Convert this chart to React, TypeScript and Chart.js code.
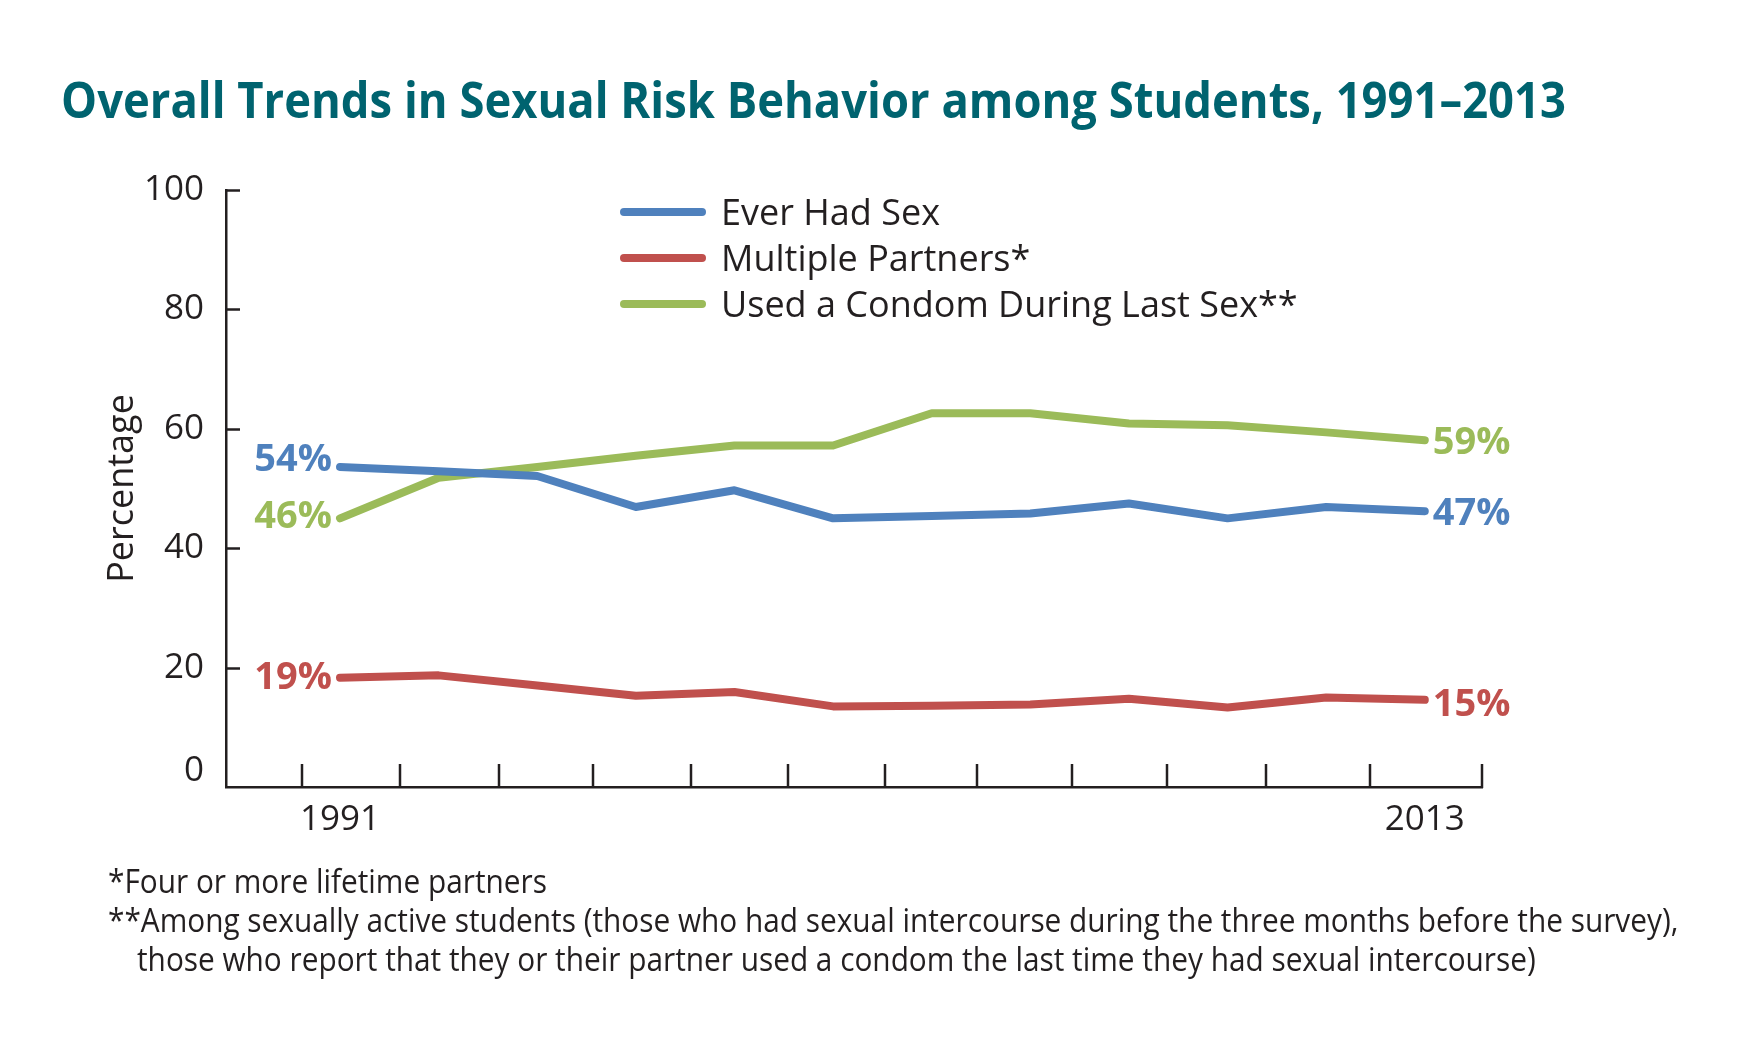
import React, { useEffect, useLayoutEffect, useRef } from 'react';
import { Chart, registerables } from 'chart.js';

Chart.register(...registerables);

// ---- data ----
const years = ['1991', '1993', '1995', '1997', '1999', '2001', '2003', '2005', '2007', '2009', '2011', '2013'];
const everHadSex = [53.6, 52.9, 52.1, 46.9, 49.7, 45.0, 45.4, 45.8, 47.5, 45.0, 46.9, 46.2];
const multiplePartners = [18.3, 18.7, 17.0, 15.3, 15.9, 13.5, 13.6, 13.8, 14.8, 13.3, 15.0, 14.6];
const usedCondom = [45.0, 51.8, 53.6, 55.5, 57.2, 57.2, 62.6, 62.6, 60.9, 60.6, 59.4, 58.1];
const seriesNames = ['Ever Had Sex', 'Multiple Partners*', 'Used a Condom During Last Sex**'];
const startLabels = ['54%', '19%', '46%'];
const endLabels = ['47%', '15%', '59%'];
const yTickValues = [0, 20, 40, 60, 80, 100];

const titleText = 'Overall Trends in Sexual Risk Behavior among Students, 1991\u20132013';
const footnotes = [
  '*Four or more lifetime partners',
  '**Among sexually active students (those who had sexual intercourse during the three months before the survey),',
  'those who report that they or their partner used a condom the last time they had sexual intercourse)',
];

// ---- style ----
const FONT = "'Open Sans', 'Noto Sans', sans-serif";
const INK = '#231f20';
const TEAL = '#00636f';
const COLORS = ['#4f81bd', '#c0504d', '#9bbb59'];

const decorPlugin = {
  id: 'decor',
  afterDatasetsDraw(chart: any, _args: any, opts: any) {
    const { ctx, chartArea, scales } = chart;
    const xs = scales.x;
    const ys = scales.y;
    ctx.save();
    // inward axis ticks
    ctx.strokeStyle = INK;
    ctx.lineWidth = 2.5;
    ctx.lineCap = 'butt';
    ys.ticks.forEach((t: any) => {
      if (t.value === 0) return;
      const py = Math.round(ys.getPixelForValue(t.value)) + 0.5;
      ctx.beginPath();
      ctx.moveTo(chartArea.left, py);
      ctx.lineTo(chartArea.left + opts.yTickLen, py);
      ctx.stroke();
    });
    [...opts.xTickValues, xs.max].forEach((v: number) => {
      const px = Math.round(xs.getPixelForValue(v));
      ctx.beginPath();
      ctx.moveTo(px, chartArea.bottom + 1);
      ctx.lineTo(px, chartArea.bottom - opts.xTickLen);
      ctx.stroke();
    });

    // zero label sits a little above the baseline in the original
    ctx.fillStyle = INK;
    ctx.font = `400 35px ${FONT}`;
    ctx.textAlign = 'right';
    ctx.textBaseline = 'middle';
    ctx.fillText('0', chartArea.left - 22, ys.getPixelForValue(0) - opts.zeroLift);

    // legend
    const lg = opts.legend;
    chart.data.datasets.forEach((ds: any, i: number) => {
      const rowY = lg.top + i * lg.rowGap;
      ctx.strokeStyle = ds.borderColor;
      ctx.lineWidth = lg.lineWidth;
      ctx.lineCap = 'round';
      ctx.beginPath();
      ctx.moveTo(lg.x, rowY);
      ctx.lineTo(lg.x + lg.lineLen, rowY);
      ctx.stroke();
      ctx.fillStyle = INK;
      ctx.font = `400 ${lg.fontSize}px ${FONT}`;
      ctx.textAlign = 'left';
      ctx.textBaseline = 'alphabetic';
      ctx.fillText(ds.label, lg.textX, rowY + lg.fontSize * 0.357);
    });

    // start / end value labels
    const lb = opts.labels;
    ctx.font = `700 ${lb.fontSize}px ${FONT}`;
    ctx.textBaseline = 'alphabetic';
    chart.data.datasets.forEach((ds: any, i: number) => {
      const meta = chart.getDatasetMeta(i);
      const first = meta.data[0];
      const last = meta.data[meta.data.length - 1];
      ctx.fillStyle = ds.borderColor;
      ctx.textAlign = 'right';
      ctx.fillText(startLabels[i], first.x - lb.gap, first.y + lb.startDy[i] + lb.fontSize * 0.357);
      ctx.textAlign = 'left';
      ctx.fillText(endLabels[i], last.x + lb.gap, last.y + lb.endDy[i] + lb.fontSize * 0.357);
    });
    ctx.restore();
  },
};

export default function App() {
  const canvasRef = useRef<HTMLCanvasElement | null>(null);
  const titleRef = useRef<HTMLDivElement | null>(null);
  const footRef = useRef<HTMLDivElement | null>(null);
  const foot2Ref = useRef<HTMLSpanElement | null>(null);
  const foot3Ref = useRef<HTMLDivElement | null>(null);

  useLayoutEffect(() => {
    const t = titleRef.current;
    if (t) {
      t.style.transform = 'none';
      const w = t.offsetWidth;
      if (w > 0) t.style.transform = `scaleX(${1505 / w})`;
    }
    const f = footRef.current;
    const s2 = foot2Ref.current;
    const l3 = foot3Ref.current;
    if (f && s2 && l3) {
      const w2 = s2.offsetWidth;
      if (w2 > 0) {
        const k = 1570 / w2;
        f.style.transform = `scaleX(${k})`;
        l3.style.paddingLeft = `${29 / k}px`;
      }
    }
  }, []);

  useEffect(() => {
    if (!canvasRef.current) return;
    const mk = (vals: number[]) => vals.map((v, i) => ({ x: i, y: v }));
    const chart = new Chart(canvasRef.current, {
      type: 'line',
      data: {
        datasets: [
          { label: seriesNames[0], data: mk(everHadSex), borderColor: COLORS[0], backgroundColor: COLORS[0] },
          { label: seriesNames[1], data: mk(multiplePartners), borderColor: COLORS[1], backgroundColor: COLORS[1] },
          { label: seriesNames[2], data: mk(usedCondom), borderColor: COLORS[2], backgroundColor: COLORS[2] },
        ],
      },
      options: {
        animation: false,
        responsive: false,
        devicePixelRatio: 1,
        layout: { padding: { left: 0, top: 190, right: 258, bottom: 0 } },
        elements: {
          point: { radius: 0, hoverRadius: 0 },
          line: { borderWidth: 8, borderCapStyle: 'round', borderJoinStyle: 'round', tension: 0, fill: false },
        },
        plugins: {
          legend: { display: false },
          title: { display: false },
          tooltip: { enabled: false },
          decor: {
            yTickLen: 14,
            xTickLen: 23,
            zeroLift: 16,
            xTickValues: [-0.385, 0.609, 1.613, 2.566, 3.56, 4.544, 5.527, 6.46, 7.424, 8.387, 9.39, 10.446],
            legend: { x: 624, lineLen: 78, textX: 721, top: 212, rowGap: 46, lineWidth: 8, fontSize: 36 },
            labels: { fontSize: 38, gap: 8, startDy: [-10, -2, -4], endDy: [0, 3, 0] },
          },
        } as any,
        scales: {
          x: {
            type: 'linear',
            min: -1.156,
            max: 11.58,
            afterBuildTicks: (s: any) => {
              s.ticks = [{ value: 0 }, { value: years.length - 1 }];
            },
            afterFit: (s: any) => {
              s.height = 263;
            },
            ticks: {
              callback: (v: any) => years[Math.round(Number(v))],
              padding: 12,
              font: { family: FONT, size: 35 },
              color: INK,
              maxRotation: 0,
              autoSkip: false,
            },
            grid: { display: false, drawTicks: false },
            border: { display: true, color: INK, width: 2.5 },
          },
          y: {
            min: 0,
            max: 100,
            afterBuildTicks: (s: any) => {
              s.ticks = yTickValues.map((v) => ({ value: v }));
            },
            afterFit: (s: any) => {
              s.width = 226;
            },
            ticks: {
              padding: 22,
              font: { family: FONT, size: 35 },
              color: INK,
              callback: (v: any) => (Number(v) === 0 ? '' : String(v)),
            },
            grid: { display: false, drawTicks: false },
            border: { display: true, color: INK, width: 2.5 },
            title: {
              display: true,
              text: 'Percentage',
              color: INK,
              font: { family: FONT, size: 36 },
              padding: { top: 101, bottom: 0 },
            },
          },
        },
      } as any,
      plugins: [decorPlugin as any],
    });
    return () => chart.destroy();
  }, []);

  return (
    <div style={{ position: 'absolute', left: 0, top: 0, width: 1740, height: 1050, background: '#fff', overflow: 'hidden' }}>
      <canvas
        ref={canvasRef}
        width={1740}
        height={1050}
        style={{ position: 'absolute', left: 0, top: 0, width: 1740, height: 1050 }}
      />
      <div
        ref={titleRef}
        style={{
          position: 'absolute',
          left: 61,
          top: 73,
          fontFamily: FONT,
          fontWeight: 700,
          fontSize: 51,
          lineHeight: '51px',
          color: TEAL,
          whiteSpace: 'nowrap',
          transformOrigin: '0 0',
        }}
      >
        {titleText}
      </div>
      <div
        ref={footRef}
        style={{
          position: 'absolute',
          left: 108,
          top: 861,
          fontFamily: FONT,
          fontSize: 32,
          lineHeight: '39px',
          color: INK,
          whiteSpace: 'nowrap',
          transformOrigin: '0 0',
        }}
      >
        <div>{footnotes[0]}</div>
        <div>
          <span ref={foot2Ref}>{footnotes[1]}</span>
        </div>
        <div ref={foot3Ref}>{footnotes[2]}</div>
      </div>
    </div>
  );
}
